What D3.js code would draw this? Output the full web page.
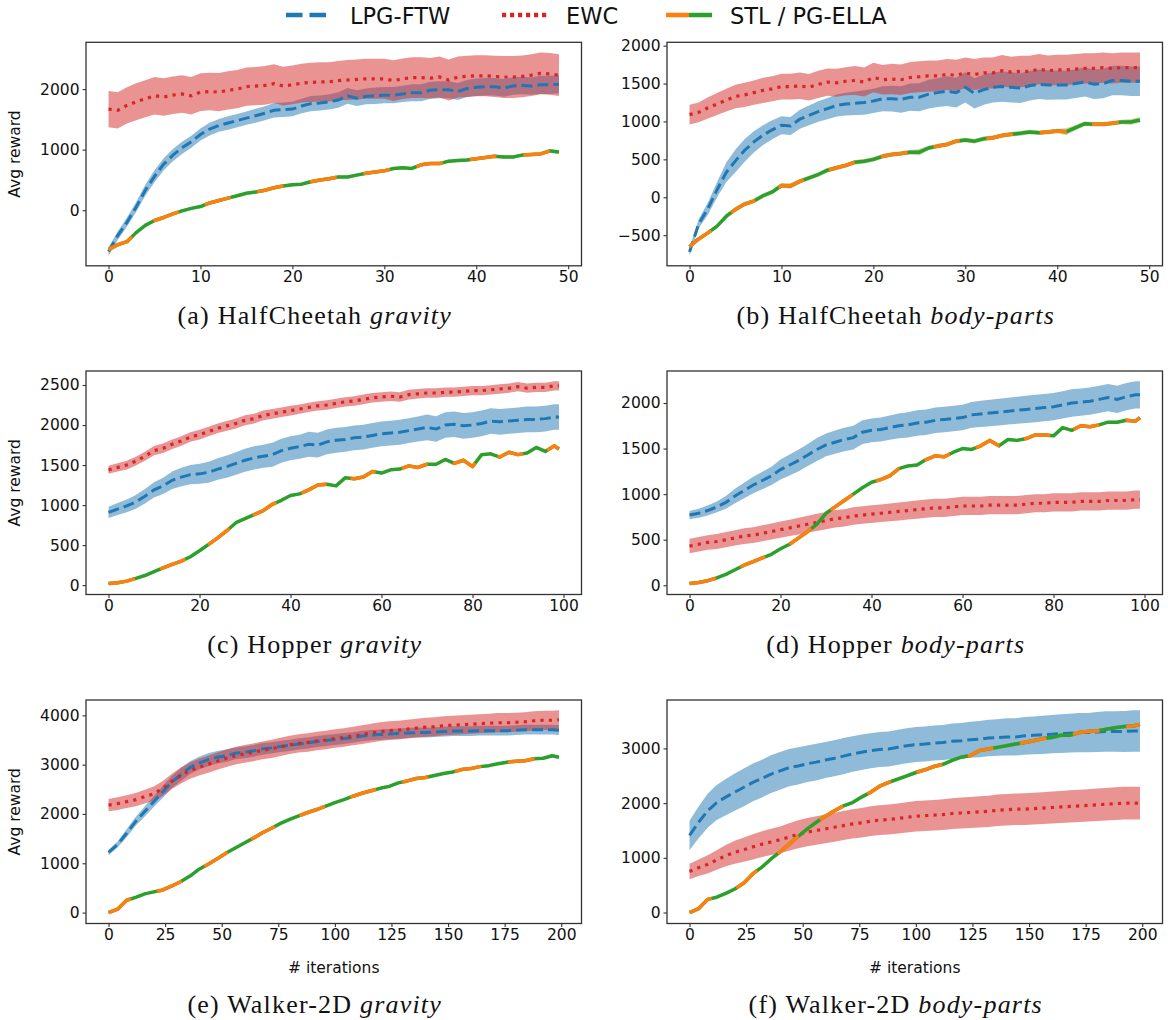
<!DOCTYPE html>
<html>
<head>
<meta charset="utf-8">
<script src="https://cdn.jsdelivr.net/npm/d3@7"></script>
<style>
  body { margin: 0; background: #fff; }
  text { font-family: "DejaVu Sans", sans-serif; fill: #111; }
  .caption { font-family: "Liberation Serif", serif; font-size: 26px; letter-spacing: 1.2px; }
</style>
</head>
<body>
<svg id="chart" width="1168" height="1020"></svg>
<script>
// iterations (x values) read for each environment
const hcIters = [0,1,2,3,4,5,6,7,8,9,10,11,12,13,14,15,16,17,18,19,20,21,22,23,24,25,26,27,28,29,30,31,32,33,34,35,36,37,38,39,40,41,42,43,44,45,46,47,48,49];
const hopIters = [0,2,4,6,8,10,12,14,16,18,20,22,24,26,28,30,32,34,36,38,40,42,44,46,48,50,52,54,56,58,60,62,64,66,68,70,72,74,76,78,80,82,84,86,88,90,92,94,96,98,99];
const walkIters = [0,4,8,12,16,20,24,28,32,36,40,44,48,52,56,60,64,68,72,76,80,84,88,92,96,100,104,108,112,116,120,124,128,132,136,140,144,148,152,156,160,164,168,172,176,180,184,188,192,196,199];

// (a) HalfCheetah gravity
const hcGravLpg = [-680,-420,-200,50,330,560,760,910,1030,1130,1250,1340,1400,1440,1480,1520,1560,1600,1650,1660,1670,1720,1760,1770,1790,1820,1890,1850,1880,1890,1900,1900,1920,1940,1940,1980,1990,1990,1960,2010,2030,2040,2040,2020,2050,2060,2050,2070,2070,2080];
const hcGravLpgSd = [70,70,75,80,90,100,100,100,100,100,100,105,105,110,110,110,115,115,120,120,120,120,125,125,125,130,130,130,130,135,135,135,135,140,140,140,140,140,140,140,145,145,145,145,145,145,145,150,150,150];
const hcGravEwc = [1670,1650,1730,1790,1840,1890,1870,1900,1920,1890,1950,1960,1950,1980,2000,2040,2050,2060,2090,2050,2070,2100,2110,2120,2120,2140,2150,2160,2170,2170,2170,2140,2170,2190,2190,2180,2200,2150,2200,2210,2220,2220,2210,2200,2200,2210,2230,2260,2250,2230];
const hcGravEwcSd = [300,300,300,305,305,310,310,310,310,310,310,310,315,315,315,315,315,320,320,320,320,320,325,325,325,325,330,330,330,330,330,335,335,335,335,335,340,340,340,340,340,340,340,345,345,345,345,345,345,345];
const hcGravStl = [-650,-570,-520,-370,-250,-170,-120,-60,-10,30,60,120,160,200,240,280,300,330,370,400,420,430,470,500,520,550,550,580,610,630,650,690,700,690,750,770,770,810,820,830,850,870,890,880,880,910,920,930,980,960];
const hcGravStlSd = [15,20,20,25,25,25,25,25,25,25,25,25,25,25,25,25,25,25,25,25,25,25,25,25,25,25,25,25,25,25,25,25,25,25,25,25,25,25,25,25,25,25,25,25,25,25,25,25,30,30];

// (b) HalfCheetah body-parts
const hcBodyLpg = [-720,-350,-150,100,330,480,620,730,820,890,950,940,1030,1080,1130,1170,1210,1230,1240,1250,1270,1300,1300,1290,1320,1320,1360,1380,1400,1380,1450,1370,1420,1450,1460,1450,1440,1470,1490,1480,1480,1480,1500,1520,1490,1500,1540,1540,1530,1530];
const hcBodyLpgSd = [50,60,80,100,130,150,150,140,130,125,120,120,125,130,135,140,145,150,155,160,160,165,170,175,180,185,190,190,195,195,200,200,200,200,200,200,195,195,195,195,190,190,190,190,195,195,195,195,195,195];
const hcBodyEwc = [1090,1120,1180,1230,1280,1330,1350,1380,1410,1430,1460,1460,1470,1450,1490,1520,1510,1530,1540,1520,1580,1550,1560,1550,1580,1590,1600,1600,1620,1610,1640,1620,1640,1640,1670,1650,1660,1660,1690,1670,1680,1680,1690,1700,1700,1710,1700,1710,1710,1710];
const hcBodyEwcSd = [130,130,140,145,150,155,160,160,165,165,170,170,175,175,180,180,185,185,190,190,195,195,200,200,205,205,205,205,205,205,205,205,205,205,205,205,205,205,200,200,200,200,200,200,200,200,200,200,200,200];
const hcBodyStl = [-650,-550,-470,-380,-250,-160,-90,-50,20,70,155,150,210,255,300,357,390,420,463,475,500,540,565,578,595,595,650,675,697,740,755,740,772,785,815,830,843,860,850,860,873,865,918,970,962,962,975,993,993,1020];
const hcBodyStlSd = [20,25,25,25,30,30,30,30,30,30,30,35,30,30,30,30,30,30,30,30,30,30,30,30,30,40,30,30,30,30,30,30,30,30,30,30,30,30,30,30,30,45,35,30,30,30,30,30,35,35];

// (c) Hopper gravity
const hopGravLpg = [910,950,990,1040,1110,1190,1240,1310,1350,1380,1390,1410,1450,1480,1520,1560,1590,1610,1630,1680,1710,1730,1760,1750,1790,1810,1820,1840,1850,1870,1890,1900,1910,1930,1950,1970,1950,2000,2010,1990,2000,2020,2050,2040,2050,2060,2070,2070,2080,2100,2100];
const hopGravLpgSd = [70,75,80,85,90,95,100,110,115,120,125,130,135,140,140,145,145,145,150,150,150,150,155,155,155,155,155,155,155,155,155,155,155,155,155,160,160,160,160,160,160,160,160,160,160,160,160,160,160,160,160];
const hopGravEwc = [1440,1470,1500,1550,1610,1680,1710,1760,1800,1850,1880,1920,1960,1990,2020,2060,2080,2120,2140,2160,2180,2200,2220,2240,2250,2270,2290,2300,2320,2340,2350,2360,2350,2380,2390,2400,2400,2410,2410,2420,2430,2430,2440,2450,2460,2480,2460,2470,2470,2490,2490];
const hopGravEwcSd = [50,52,55,55,55,58,58,60,60,60,60,60,60,60,62,62,60,60,60,60,60,58,58,58,58,58,58,58,60,60,60,60,60,60,60,58,58,58,58,58,58,58,58,58,58,58,58,58,58,58,58];
const hopGravStl = [20,30,50,85,120,170,215,260,300,355,430,510,590,680,780,830,880,930,1010,1060,1120,1140,1190,1250,1260,1240,1340,1330,1350,1420,1400,1440,1450,1490,1470,1510,1510,1570,1520,1560,1480,1630,1640,1600,1660,1630,1650,1720,1670,1740,1700];
const hopGravStlSd = [10,10,10,12,12,14,14,15,15,15,15,15,15,15,15,15,15,15,15,15,15,15,15,15,15,15,15,15,15,15,15,15,15,15,15,15,15,15,15,15,15,15,15,15,15,15,15,15,15,15,15];

// (d) Hopper body-parts
const hopBodyLpg = [770,790,820,860,910,980,1040,1100,1150,1200,1270,1320,1370,1430,1490,1540,1570,1600,1620,1680,1700,1710,1730,1750,1760,1780,1790,1810,1820,1830,1840,1870,1880,1890,1900,1910,1920,1930,1940,1950,1960,1980,2000,2010,2020,2040,2060,2040,2070,2090,2090];
const hopBodyLpgSd = [45,50,55,60,70,80,85,90,95,100,110,115,120,120,125,125,128,130,130,130,130,132,134,136,138,140,140,140,140,140,140,142,144,145,146,147,148,149,150,150,150,150,150,150,150,150,150,150,150,150,150];
const hopBodyEwc = [430,450,470,480,500,520,540,550,570,590,610,630,650,670,690,710,730,740,760,770,780,790,800,810,820,830,840,850,850,860,870,870,870,880,880,880,880,890,900,900,910,910,910,920,920,920,930,930,930,940,940];
const hopBodyEwcSd = [80,80,80,82,84,85,86,87,88,89,90,90,92,92,94,94,95,95,96,96,97,97,98,98,99,99,100,100,100,100,100,100,100,100,100,100,100,100,100,100,100,100,100,100,100,100,100,100,100,100,100];
const hopBodyStl = [20,30,50,80,120,170,220,260,300,340,400,450,520,590,670,790,860,930,1000,1070,1130,1160,1200,1280,1310,1320,1380,1420,1410,1460,1500,1490,1530,1590,1530,1600,1590,1610,1650,1650,1640,1730,1700,1750,1740,1760,1790,1790,1810,1800,1840];
const hopBodyStlSd = [10,10,10,12,12,14,14,15,15,15,15,15,15,15,15,15,15,15,15,15,15,15,15,15,15,15,15,15,15,15,15,15,15,15,15,15,15,15,15,15,15,15,15,15,15,15,15,15,15,15,15];

// (e) Walker-2D gravity
const walkGravLpg = [1220,1380,1610,1850,2050,2250,2450,2650,2800,2940,3030,3100,3150,3180,3230,3250,3280,3320,3340,3370,3390,3420,3440,3470,3490,3510,3530,3550,3580,3600,3610,3620,3630,3640,3650,3650,3660,3670,3680,3680,3680,3690,3690,3690,3690,3700,3710,3710,3710,3710,3700];
const walkGravLpgSd = [50,60,80,90,100,110,120,125,130,130,130,130,125,125,120,120,120,118,116,115,114,113,112,111,110,110,110,108,106,105,105,104,103,102,101,100,100,100,100,100,100,100,100,100,100,100,100,100,100,100,100];
const walkGravEwc = [2180,2210,2250,2290,2350,2410,2520,2660,2780,2880,2950,3010,3070,3130,3180,3220,3250,3290,3320,3360,3400,3430,3450,3480,3500,3530,3550,3580,3610,3640,3670,3690,3700,3720,3740,3760,3770,3790,3800,3810,3820,3830,3840,3850,3850,3860,3870,3890,3900,3900,3910];
const walkGravEwcSd = [125,128,130,135,140,145,150,155,160,165,170,172,174,176,178,180,181,182,183,184,185,185,186,186,187,187,188,188,189,189,190,190,190,191,191,192,192,192,193,193,194,194,194,195,195,195,195,195,195,195,195];
const walkGravStl = [0,70,250,310,380,420,460,540,630,740,880,980,1090,1210,1310,1410,1510,1620,1710,1810,1890,1960,2030,2090,2160,2230,2290,2360,2420,2470,2520,2560,2630,2670,2720,2740,2780,2820,2850,2900,2920,2960,2980,3020,3050,3070,3080,3120,3130,3180,3150];
const walkGravStlSd = [15,20,25,25,25,25,25,25,25,25,25,25,25,25,25,25,25,25,25,25,25,25,25,25,25,25,25,25,25,25,25,25,25,25,25,25,25,25,25,25,25,25,25,25,25,25,25,25,25,30,30];

// (f) Walker-2D body-parts
const walkBodyLpg = [1410,1650,1860,2010,2110,2200,2290,2380,2450,2530,2590,2650,2680,2720,2750,2790,2820,2860,2900,2930,2960,2980,2990,3020,3050,3070,3080,3100,3110,3130,3140,3160,3170,3190,3200,3210,3210,3230,3240,3250,3260,3270,3280,3290,3290,3300,3310,3310,3310,3320,3320];
const walkBodyLpgSd = [270,290,310,320,330,340,345,345,345,345,345,340,340,335,335,330,330,330,325,325,320,320,320,320,320,320,320,320,320,325,325,330,330,335,335,340,340,345,345,350,350,355,355,360,360,365,370,370,375,380,380];
const walkBodyEwc = [750,820,880,960,1040,1100,1150,1200,1250,1290,1330,1380,1430,1470,1500,1530,1560,1590,1620,1640,1670,1690,1700,1720,1740,1760,1770,1780,1790,1810,1820,1830,1840,1850,1870,1880,1890,1890,1900,1910,1920,1930,1940,1950,1960,1970,1980,1990,2000,2000,2000];
const walkBodyEwcSd = [140,150,165,180,195,210,220,230,235,240,245,250,255,258,260,262,264,266,268,270,272,273,274,275,276,277,278,279,280,281,282,283,284,285,286,287,288,289,290,291,292,293,294,295,296,297,298,299,300,300,300];
const walkBodyStl = [0,70,240,280,350,430,540,710,830,980,1110,1250,1390,1530,1650,1760,1860,1950,2010,2110,2200,2310,2380,2440,2500,2560,2610,2670,2710,2780,2840,2870,2960,2990,3020,3050,3080,3110,3140,3180,3200,3240,3240,3290,3310,3320,3350,3380,3400,3410,3440];
const walkBodyStlSd = [15,20,25,25,25,30,30,30,30,30,30,30,30,30,30,30,30,30,30,35,35,35,35,35,35,35,35,35,35,35,35,35,35,35,35,35,35,35,35,35,35,35,35,35,35,35,35,35,35,35,35];

// ticks and labels
const hcXTicks = [0, 10, 20, 30, 40, 50];
const hopXTicks = [0, 20, 40, 60, 80, 100];
const walkXTicks = [0, 25, 50, 75, 100, 125, 150, 175, 200];
const hcGravYTicks = [0, 1000, 2000];
const hcBodyYTicks = [-500, 0, 500, 1000, 1500, 2000];
const hopGravYTicks = [0, 500, 1000, 1500, 2000, 2500];
const hopBodyYTicks = [0, 500, 1000, 1500, 2000];
const walkGravYTicks = [0, 1000, 2000, 3000, 4000];
const walkBodyYTicks = [0, 1000, 2000, 3000];

const seriesNames = ["LPG-FTW", "EWC", "STL / PG-ELLA"];
const panelLetters = ["(a)", "(b)", "(c)", "(d)", "(e)", "(f)"];
const envNames = ["HalfCheetah", "HalfCheetah", "Hopper", "Hopper", "Walker-2D", "Walker-2D"];
const variantNames = ["gravity", "body-parts", "gravity", "body-parts", "gravity", "body-parts"];

const panels = [
    { iters: hcIters, xTicks: hcXTicks, yTicks: hcGravYTicks, lpg: hcGravLpg, lpgSd: hcGravLpgSd, ewc: hcGravEwc, ewcSd: hcGravEwcSd, stl: hcGravStl, stlSd: hcGravStlSd },
    { iters: hcIters, xTicks: hcXTicks, yTicks: hcBodyYTicks, lpg: hcBodyLpg, lpgSd: hcBodyLpgSd, ewc: hcBodyEwc, ewcSd: hcBodyEwcSd, stl: hcBodyStl, stlSd: hcBodyStlSd },
    { iters: hopIters, xTicks: hopXTicks, yTicks: hopGravYTicks, lpg: hopGravLpg, lpgSd: hopGravLpgSd, ewc: hopGravEwc, ewcSd: hopGravEwcSd, stl: hopGravStl, stlSd: hopGravStlSd },
    { iters: hopIters, xTicks: hopXTicks, yTicks: hopBodyYTicks, lpg: hopBodyLpg, lpgSd: hopBodyLpgSd, ewc: hopBodyEwc, ewcSd: hopBodyEwcSd, stl: hopBodyStl, stlSd: hopBodyStlSd },
    { iters: walkIters, xTicks: walkXTicks, yTicks: walkGravYTicks, lpg: walkGravLpg, lpgSd: walkGravLpgSd, ewc: walkGravEwc, ewcSd: walkGravEwcSd, stl: walkGravStl, stlSd: walkGravStlSd },
    { iters: walkIters, xTicks: walkXTicks, yTicks: walkBodyYTicks, lpg: walkBodyLpg, lpgSd: walkBodyLpgSd, ewc: walkBodyEwc, ewcSd: walkBodyEwcSd, stl: walkBodyStl, stlSd: walkBodyStlSd }
];

const blue = "#1f77b4", red = "#d62728", orange = "#ff7f0e", green = "#2ca02c";
const colX = [86, 667];
const rowY = [42.3, 371, 700];
const pw = 495.5, ph = 223.5;
const captionY = [324, 653, 1013];

const svg = d3.select("#chart");

panels.forEach((p, i) => {
    const col = i % 2, row = Math.floor(i / 2);
    const x0 = colX[col], y0 = rowY[row];
    const last = p.iters[p.iters.length - 1];

    const x = d3.scaleLinear()
        .domain([-0.05 * last, 1.05 * last])
        .range([x0, x0 + pw]);

    const series = [
        { mean: p.lpg, sd: p.lpgSd },
        { mean: p.ewc, sd: p.ewcSd },
        { mean: p.stl, sd: p.stlSd }
    ];
    const lo = d3.min(series, s => d3.min(s.mean, (m, k) => m - s.sd[k]));
    const hi = d3.max(series, s => d3.max(s.mean, (m, k) => m + s.sd[k]));
    const pad = (hi - lo) * 0.05;

    const y = d3.scaleLinear()
        .domain([lo - pad, hi + pad])
        .range([y0 + ph, y0]);

    const g = svg.append("g");

    const band = s => d3.area()
        .x((d, k) => x(p.iters[k]))
        .y0((d, k) => y(d - s.sd[k]))
        .y1((d, k) => y(d + s.sd[k]));
    const line = d3.line()
        .x((d, k) => x(p.iters[k]))
        .y(d => y(d));

    // bands sit under all lines, like matplotlib's fill_between
    g.append("path").attr("d", band(series[0])(p.lpg))
        .attr("fill", blue).attr("fill-opacity", 0.5);
    g.append("path").attr("d", band(series[1])(p.ewc))
        .attr("fill", red).attr("fill-opacity", 0.5);
    g.append("path").attr("d", band(series[2])(p.stl))
        .attr("fill", orange).attr("fill-opacity", 0.25);
    g.append("path").attr("d", band(series[2])(p.stl))
        .attr("fill", green).attr("fill-opacity", 0.25);

    g.append("path").attr("d", line(p.lpg))
        .attr("fill", "none").attr("stroke", blue)
        .attr("stroke-width", 3).attr("stroke-dasharray", "11,5");
    g.append("path").attr("d", line(p.ewc))
        .attr("fill", "none").attr("stroke", red)
        .attr("stroke-width", 3.2).attr("stroke-dasharray", "3.2,5.2");
    g.append("path").attr("d", line(p.stl))
        .attr("fill", "none").attr("stroke", green)
        .attr("stroke-width", 3.5).attr("stroke-linejoin", "round");
    g.append("path").attr("d", line(p.stl))
        .attr("fill", "none").attr("stroke", orange)
        .attr("stroke-width", 3.5).attr("stroke-linejoin", "round")
        .attr("stroke-dasharray", "27,27");

    // axes
    const xAxis = g.append("g")
        .attr("transform", `translate(0,${y0 + ph})`)
        .call(d3.axisBottom(x).tickValues(p.xTicks).tickSize(3.5).tickPadding(2).tickFormat(d3.format("d")));
    const yAxis = g.append("g")
        .attr("transform", `translate(${x0},0)`)
        .call(d3.axisLeft(y).tickValues(p.yTicks).tickSize(3.5).tickPadding(3).tickFormat(d3.format("d")));
    [xAxis, yAxis].forEach(a => {
        a.select(".domain").remove();
        a.selectAll("line").attr("stroke", "#333").attr("stroke-width", 1.1);
        a.selectAll("text").attr("font-family", "DejaVu Sans").attr("font-size", "15.5px").attr("fill", "#111");
    });

    g.append("rect")
        .attr("x", x0).attr("y", y0)
        .attr("width", pw).attr("height", ph)
        .attr("fill", "none").attr("stroke", "#333").attr("stroke-width", 1.3);

    if (col === 0) {
        g.append("text")
            .attr("transform", `translate(20,${y0 + ph / 2}) rotate(-90)`)
            .attr("text-anchor", "middle")
            .attr("font-size", "15.5px")
            .text("Avg reward");
    }
    if (row === 2) {
        g.append("text")
            .attr("x", x0 + pw / 2).attr("y", 973)
            .attr("text-anchor", "middle")
            .attr("font-size", "15.5px")
            .text("# iterations");
    }

    const cap = g.append("text")
        .attr("class", "caption")
        .attr("x", x0 + pw / 2 - 19).attr("y", captionY[row])
        .attr("text-anchor", "middle");
    cap.append("tspan").text(`${panelLetters[i]} ${envNames[i]} `);
    cap.append("tspan").attr("font-style", "italic").text(variantNames[i]);
});

// legend
const legendX = [286, 502, 666];
const leg = svg.append("g");
const ly = 15;
leg.append("line").attr("x1", legendX[0]).attr("x2", legendX[0] + 46).attr("y1", ly).attr("y2", ly)
    .attr("stroke", blue).attr("stroke-width", 4.5).attr("stroke-dasharray", "16.5,7");
leg.append("line").attr("x1", legendX[1]).attr("x2", legendX[1] + 46).attr("y1", ly).attr("y2", ly)
    .attr("stroke", red).attr("stroke-width", 4.5).attr("stroke-dasharray", "4.2,3.8");
leg.append("line").attr("x1", legendX[2]).attr("x2", legendX[2] + 23).attr("y1", ly).attr("y2", ly)
    .attr("stroke", orange).attr("stroke-width", 4.5);
leg.append("line").attr("x1", legendX[2] + 23).attr("x2", legendX[2] + 46).attr("y1", ly).attr("y2", ly)
    .attr("stroke", green).attr("stroke-width", 4.5);
seriesNames.forEach((name, k) => {
    leg.append("text")
        .attr("x", legendX[k] + 64).attr("y", 23.5)
        .attr("font-size", "22.5px")
        .text(name);
});
</script>
</body>
</html>
